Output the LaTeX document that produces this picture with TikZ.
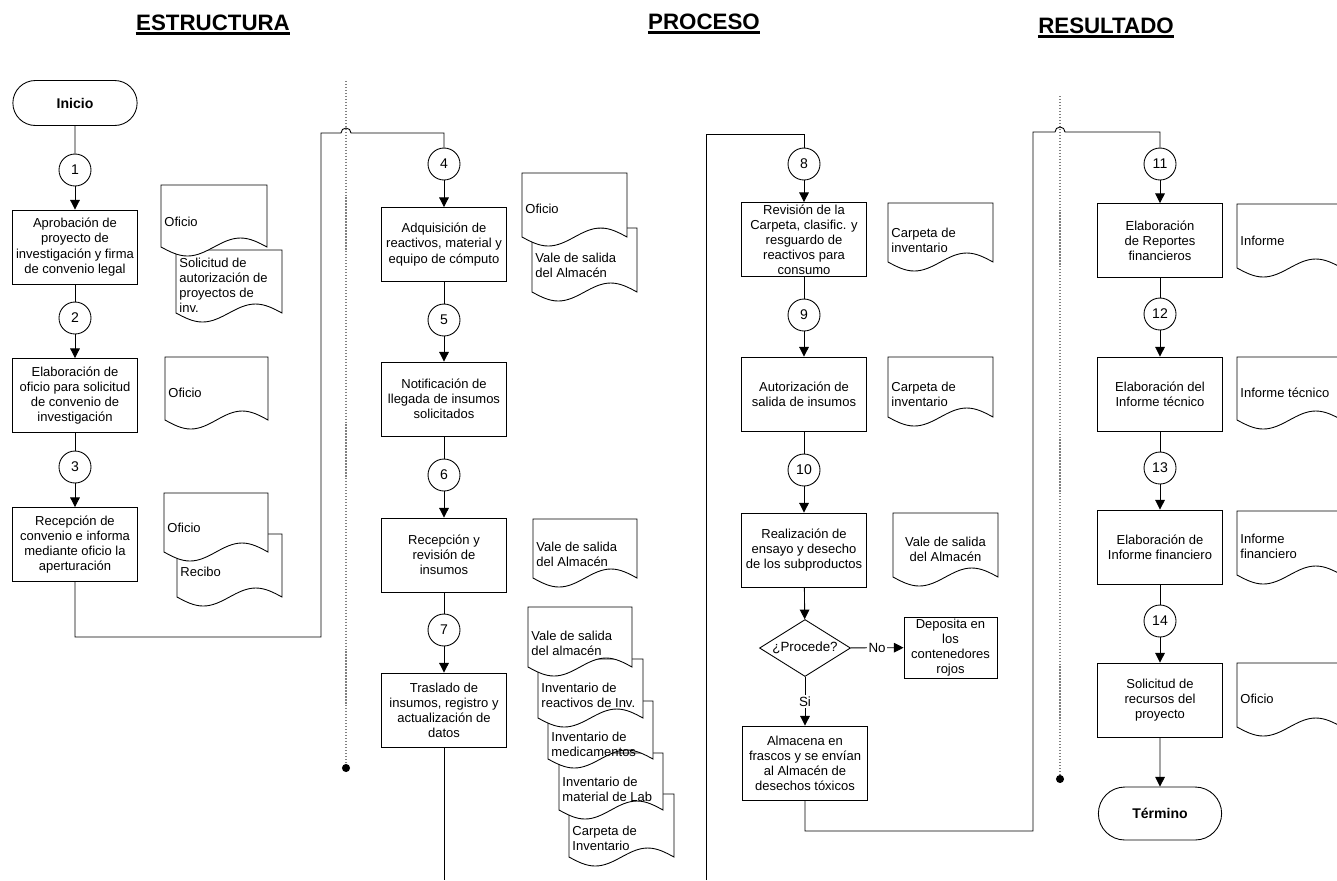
\documentclass[tikz,border=0pt]{standalone}
\usepackage{fontspec}
\setmainfont{Liberation Sans}
\usetikzlibrary{shapes.geometric,shapes.misc,arrows.meta}

\tikzset{
  paso/.style={draw, rectangle, minimum width=2.5cm, minimum height=1.48cm, align=center, inner sep=1pt, font=\fontsize{7.4}{8.6}\selectfont},
  num/.style={draw, circle, minimum size=0.64cm, inner sep=0pt, font=\fontsize{8}{9}\selectfont},
  term/.style={draw, rounded rectangle, minimum width=2.72cm, minimum height=0.9cm, font=\fontsize{8}{9}\selectfont\bfseries},
  decis/.style={draw, diamond, aspect=1.6, inner sep=0pt, minimum width=1.82cm, minimum height=1.14cm, font=\fontsize{7.6}{8.6}\selectfont},
  flujo/.style={-{Triangle[length=5.5pt,width=5.5pt]}},
  docline/.style={draw, fill=white},
  doctext/.style={anchor=west, align=left, inner sep=0pt, font=\fontsize{7.4}{8.6}\selectfont},
  doctextc/.style={doctext, anchor=center, align=center, xshift=0.99cm},
  titulo/.style={font=\fontsize{12.7}{14}\selectfont\bfseries, inner sep=0pt},
  sep/.style={gray, densely dotted, line width=0.7pt},
  etiq/.style={fill=white, inner sep=1pt, font=\fontsize{7.6}{8.6}\selectfont}
}

% document symbol: [text style]{name}{x}{y}{width}{height}{text y}{text}
\newcommand{\docnote}[8][doctext]{%
  \draw[docline] (#3,#4) -- ({#3},{#4+#6}) sin ({#3+#5/4},{#4+#6+9}) cos ({#3+#5/2},{#4+#6})
    sin ({#3+3*#5/4},{#4+#6-9}) cos ({#3+#5},{#4+#6}) -- ({#3+#5},#4) -- cycle;
  \node[#1] (#2) at ({#3+3},#7) {#8};
}

\begin{document}
\begin{tikzpicture}[x=0.02cm, y=-0.02cm, line width=0.5pt]
\useasboundingbox (0,0) rectangle (1337,880);

% headers
\node[titulo] (hestr) at (213,23) {ESTRUCTURA};
\node[titulo] (hproc) at (704,22) {PROCESO};
\node[titulo] (hres) at (1106,26) {RESULTADO};
\draw[line width=1.4pt] ([yshift=-1.5pt]hestr.base west) -- ([yshift=-1.5pt]hestr.base east);
\draw[line width=1.4pt] ([yshift=-1.5pt]hproc.base west) -- ([yshift=-1.5pt]hproc.base east);
\draw[line width=1.4pt] ([yshift=-1.5pt]hres.base west) -- ([yshift=-1.5pt]hres.base east);

% separators
\coordinate (sepAtop) at (346,81);
\coordinate (sepAbot) at (346,768);
\coordinate (sepBtop) at (1060,96);
\coordinate (sepBbot) at (1060,779);
\draw[sep] (sepAtop) -- (sepAbot);
\draw[sep] (sepBtop) -- (sepBbot);
\fill (sepAbot) circle (2.3pt);
\fill (sepBbot) circle (2.3pt);

% column 1
\node[term] (inicio) at (75,103) {Inicio};
\node[num] (n1) at (75,170) {1};
\node[paso] (b1) at (75,247) {Aprobación de\\proyecto de\\investigación y firma\\de convenio legal};
\node[num] (n2) at (75,318) {2};
\node[paso] (b2) at (75,395.5) {Elaboración de\\oficio para solicitud\\de convenio de\\investigación};
\node[num] (n3) at (75,467) {3};
\node[paso] (b3) at (75,544.5) {Recepción de\\convenio e informa\\mediante oficio la\\aperturación};

\draw (inicio) -- (n1);
\draw[flujo] (n1) -- (b1);
\draw (b1) -- (n2);
\draw[flujo] (n2) -- (b2);
\draw (b2) -- (n3);
\draw[flujo] (n3) -- (b3);

\docnote{doc1b}{176}{250}{106}{63}{285.5}{Solicitud de\\autorización de\\proyectos de\\inv.}
\docnote{doc1}{161}{185}{106}{62}{222}{Oficio}
\docnote{doc2}{165}{357}{103}{63}{393}{Oficio}
\docnote{doc3b}{177}{534}{105}{63}{572}{Recibo}
\docnote{doc3}{164}{493}{104}{59}{528}{Oficio}

% column 2
\node[num] (n4) at (444,164) {4};
\node[paso] (b4) at (444,244.5) {Adquisición de\\reactivos, material y\\equipo de cómputo};
\node[num] (n5) at (444,320) {5};
\node[paso] (b5) at (444,399) {Notificación de\\llegada de insumos\\solicitados};
\node[num] (n6) at (444,475) {6};
\node[paso] (b6) at (444,555) {Recepción y\\revisión de\\insumos};
\node[num] (n7) at (444,630) {7};
\node[paso] (b7) at (444,710) {Traslado de\\insumos, registro y\\actualización de\\datos};

\draw (b3.south) -- (75,637) -- (321,637) -- (321,133) -- (341,133)
  arc[start angle=180, end angle=0, radius=0.1cm] -- (444,133) -- (n4.north);
\draw[flujo] (n4) -- (b4);
\draw (b4) -- (n5);
\draw[flujo] (n5) -- (b5);
\draw (b5) -- (n6);
\draw[flujo] (n6) -- (b6);
\draw (b6) -- (n7);
\draw[flujo] (n7) -- (b7);
\coordinate (offA) at (444,880);
\draw (b7.south) -- (offA);

\docnote{doc4b}{532}{228}{105}{64}{265}{Vale de salida\\del Almacén}
\docnote{doc4}{522}{173}{105}{64}{209}{Oficio}
\docnote{doc6}{533}{519}{104}{59}{554.5}{Vale de salida\\del Almacén}
\docnote{doc7e}{569}{794}{105}{63}{838.5}{Carpeta de\\Inventario}
\docnote{doc7d}{559}{753}{104}{57}{789.5}{Inventario de\\material de Lab}
\docnote{doc7c}{548}{701}{105}{58}{744.5}{Inventario de\\medicamentos}
\docnote{doc7b}{538}{659}{105}{59}{695.5}{Inventario de\\reactivos de Inv.}
\docnote{doc7}{528}{607}{104}{60}{643.5}{Vale de salida\\del almacén}

% column 3
\node[num] (n8) at (804,164) {8};
\node[paso] (b8) at (804,239.5) {Revisión de la\\Carpeta, clasific. y\\resguardo de\\reactivos para\\consumo};
\node[num] (n9) at (804,315) {9};
\node[paso] (b9) at (804,394) {Autorización de\\salida de insumos};
\node[num] (n10) at (804,470) {10};
\node[paso] (b10) at (804,550) {Realización de\\ensayo y desecho\\de los subproductos};
\node[decis] (dec) at (805,648) {¿Procede?};
\node[paso, minimum width=1.86cm, minimum height=1.18cm] (dep) at (950.5,647.5) {Deposita en\\los\\contenedores\\rojos};
\node[paso] (alm) at (805,763) {Almacena en\\frascos y se envían\\al Almacén de\\desechos tóxicos};

\coordinate (offB) at (706,880);
\draw (offB) -- (706,134) -- (804,134) -- (n8.north);
\draw[flujo] (n8) -- (b8);
\draw (b8) -- (n9);
\draw[flujo] (n9) -- (b9);
\draw (b9) -- (n10);
\draw[flujo] (n10) -- (b10);
\draw[flujo] (b10) -- (dec);
\draw[flujo] (dec) -- node[etiq] {No} (dep);
\draw[flujo] (dec) -- node[etiq] {Si} (alm);

\docnote{doc8}{888}{203}{105}{59}{240}{Carpeta de\\inventario}
\docnote{doc9}{888}{357}{105}{60}{394.5}{Carpeta de\\inventario}
\docnote[doctextc]{doc10}{893}{513}{105}{64}{549.5}{Vale de salida\\del Almacén}

% column 4
\node[num] (n11) at (1160,164) {11};
\node[paso] (b11) at (1160,240.5) {Elaboración\\de Reportes\\financieros};
\node[num] (n12) at (1160,314) {12};
\node[paso] (b12) at (1160,394) {Elaboración del\\Informe técnico};
\node[num] (n13) at (1160,468) {13};
\node[paso] (b13) at (1160,547) {Elaboración de\\Informe financiero};
\node[num] (n14) at (1160,621) {14};
\node[paso] (b14) at (1160,700) {Solicitud de\\recursos del\\proyecto};
\node[term, minimum width=2.7cm, minimum height=1.06cm] (termino) at (1160,813.5) {Término};

\draw (alm.south) -- (805,831) -- (1033,831) -- (1033,132) -- (1055,132)
  arc[start angle=180, end angle=0, radius=0.1cm] -- (1160,132) -- (n11.north);
\draw[flujo] (n11) -- (b11);
\draw (b11) -- (n12);
\draw[flujo] (n12) -- (b12);
\draw (b12) -- (n13);
\draw[flujo] (n13) -- (b13);
\draw (b13) -- (n14);
\draw[flujo] (n14) -- (b14);
\draw[flujo] (b14) -- (termino);

\docnote{doc11}{1237}{204}{105}{64}{241}{Informe}
\docnote{doc12}{1237}{357}{105}{63}{393}{Informe técnico}
\docnote{doc13}{1237}{511}{105}{64}{546.5}{Informe\\financiero}
\docnote{doc14}{1237}{663}{105}{64}{699}{Oficio}
\end{tikzpicture}
\end{document}
